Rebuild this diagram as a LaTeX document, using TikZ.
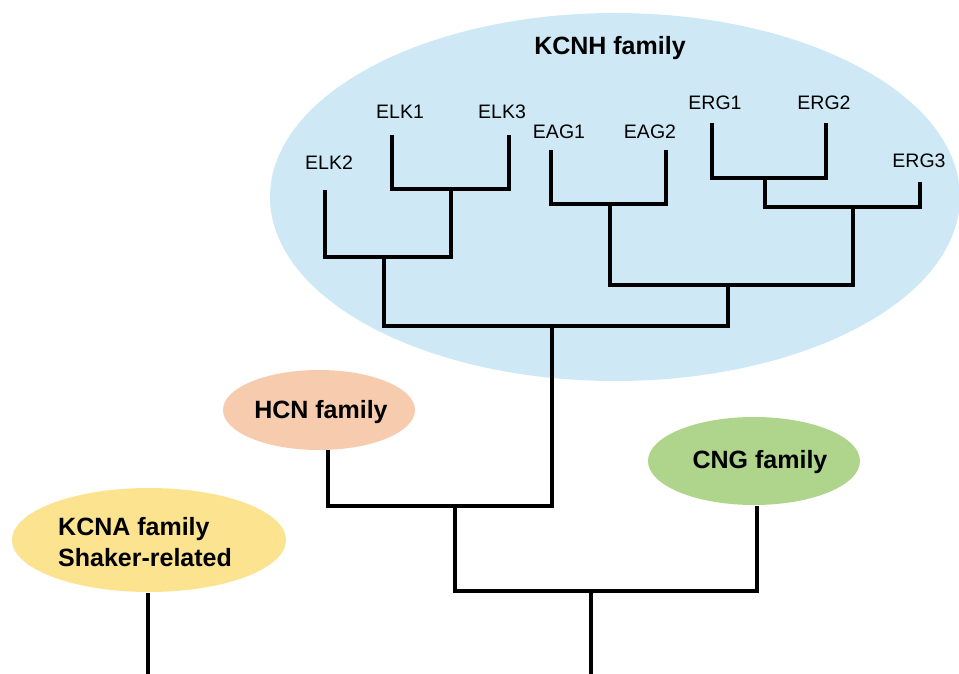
\documentclass[tikz,border=0pt]{standalone}
\usepackage{fontspec}
\setmainfont{Liberation Sans}
\usetikzlibrary{shapes.geometric}
\definecolor{kcnhblue}{RGB}{206,233,245}
\definecolor{hcnpeach}{RGB}{247,203,173}
\definecolor{cnggreen}{RGB}{174,213,139}
\definecolor{kcnayellow}{RGB}{251,227,143}
\tikzset{
  branch/.style={line width=3.6pt, black, line join=miter},
  famblob/.style={ellipse, inner sep=0pt, draw=none},
  leaflabel/.style={inner sep=0pt, font=\fontsize{19.5}{22}\selectfont},
  famlabel/.style={inner sep=0pt, font=\fontsize{25}{31}\selectfont\bfseries},
}
\begin{document}
\begin{tikzpicture}[x=1pt,y=-1pt]
\useasboundingbox (0,0) rectangle (959,674);
% family blobs
\node[famblob, fill=kcnhblue, minimum width=690pt, minimum height=368pt] (kcnh) at (615,197) {};
\node[famblob, fill=hcnpeach, minimum width=192pt, minimum height=80pt] (hcn) at (319,410) {};
\node[famblob, fill=cnggreen, minimum width=212pt, minimum height=88pt] (cng) at (754,461) {};
\node[famblob, fill=kcnayellow, minimum width=274pt, minimum height=104pt] (kcna) at (149,540) {};
% family labels
\node[famlabel] (kcnhlab) at (610,48) {KCNH family};
\node[famlabel] (hcnlab) at (321,412) {HCN family};
\node[famlabel] (cnglab) at (760,462) {CNG family};
\node[famlabel, align=left, anchor=west] (kcnalab) at (58,542) {KCNA family\\Shaker-related};
% leaf labels
\node[leaflabel] (elk2) at (329,163) {ELK2};
\node[leaflabel] (elk1) at (400,112) {ELK1};
\node[leaflabel] (elk3) at (502,112) {ELK3};
\node[leaflabel] (eag1) at (559,132) {EAG1};
\node[leaflabel] (eag2) at (650,132) {EAG2};
\node[leaflabel] (erg1) at (715,103) {ERG1};
\node[leaflabel] (erg2) at (824,103) {ERG2};
\node[leaflabel] (erg3) at (919,161) {ERG3};
% coordinates
\coordinate (elk2top) at (325,190);
\coordinate (elk1top) at (392,135);
\coordinate (elk3top) at (509,135);
\coordinate (j1) at (451,189);
\coordinate (j2) at (384,257);
\coordinate (eag1top) at (551,150);
\coordinate (eag2top) at (666,150);
\coordinate (j3) at (610,204);
\coordinate (erg1top) at (712,123);
\coordinate (erg2top) at (826,123);
\coordinate (j4) at (765,178);
\coordinate (erg3top) at (920,182);
\coordinate (j5) at (853,207);
\coordinate (j6) at (728,285);
\coordinate (j7) at (552,326);
\coordinate (hcntop) at (328,450);
\coordinate (j8) at (455,506);
\coordinate (cngtop) at (757,506);
\coordinate (j9) at (591,591);
\coordinate (kcnatop) at (148,593);
\coordinate (kcnaend) at (148,676);
\coordinate (rootend) at (591,676);
% tree
\draw[branch] (elk1top) |- (j1) -| (elk3top);
\draw[branch] (elk2top) |- (j2) -| (j1);
\draw[branch] (eag1top) |- (j3) -| (eag2top);
\draw[branch] (erg1top) |- (j4) -| (erg2top);
\draw[branch] (j4) |- (j5) -| (erg3top);
\draw[branch] (j3) |- (j6) -| (j5);
\draw[branch] (j2) |- (j7) -| (j6);
\draw[branch] (hcntop) |- (j8) -| (j7);
\draw[branch] (j8) |- (j9) -| (cngtop);
\draw[branch] (j9) -- (rootend);
\draw[branch] (kcnatop) -- (kcnaend);
\end{tikzpicture}
\end{document}
